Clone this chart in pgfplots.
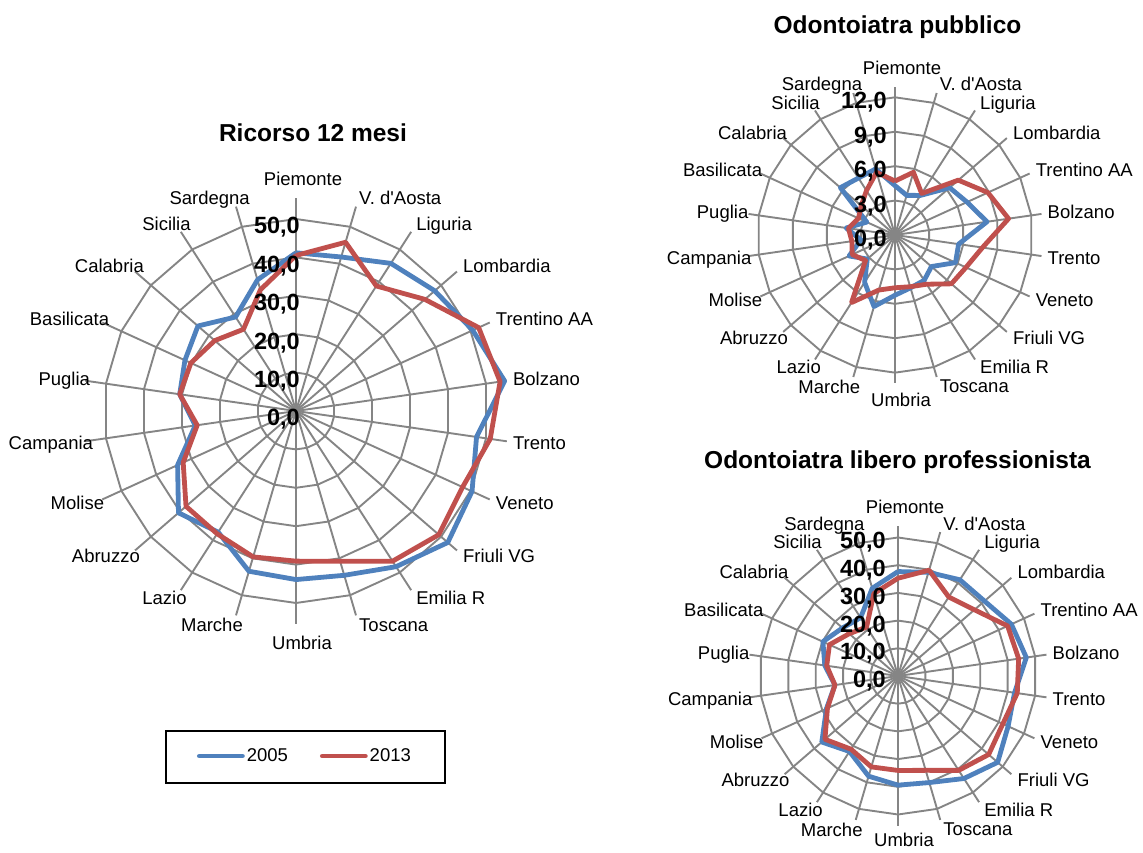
\documentclass[border=0pt]{standalone}
\usepackage{fontspec}
\setmainfont{Liberation Sans}[Ligatures=TeXOff]
\usepackage{pgfplots}
\pgfplotsset{compat=1.18}
\usepgfplotslibrary{polar}
\usepackage{pgfplotstable}
\definecolor{b05}{HTML}{4F81BD}
\definecolor{r13}{HTML}{C0504D}
\definecolor{gridc}{HTML}{858585}
\newcommand{\lbl}{\fontsize{18.5}{22}\selectfont}
\newcommand{\tck}{\bfseries\fontsize{23.5}{27}\selectfont}
\newcommand{\ttl}{\bfseries\fontsize{24.5}{29}\selectfont}

% data: angle (deg, Piemonte at top, clockwise), 2005, 2013
\pgfplotstableread{
ang b r
90      41.2 40.5
73.636  41.8 45.8
57.273  45.7 38.7
40.909  47.8 44.4
24.545  50.6 52.3
8.182   54.9 53.7
351.818 47.5 51.1
335.455 50.4 47.7
319.091 52.3 49.2
302.727 48.2 46.5
286.364 44.6 40.8
270     43.9 39.1
253.636 43.5 39.6
237.273 37.5 38.0
220.909 40.5 37.9
204.545 33.9 32.3
188.182 26.5 26.0
171.818 30.6 30.6
155.455 31.8 30.1
139.091 33.8 28.0
122.727 29.1 25.3
106.364 35.6 32.9
90      41.2 40.5
}\tabL

\pgfplotstableread{
ang b r
90      4.3  4.7
73.636  3.6  5.7
57.273  4.1  4.3
40.909  6.3  7.3
24.545  6.9  8.9
8.182   8.1  10.0
351.818 5.6  7.7
335.455 5.8  6.8
319.091 4.2  6.5
302.727 4.7  5.1
286.364 4.8  4.7
270     5.25 4.6
253.636 6.5  5.0
237.273 4.9  7.0
220.909 3.2  3.4
204.545 4.4  4.1
188.182 3.0  3.8
171.818 4.3  4.1
155.455 2.7  3.5
139.091 6.3  3.9
122.727 5.9  4.6
106.364 6.0  5.7
90      4.3  4.7
}\tabP

\pgfplotstableread{
ang b r
90      37.7 35.3
73.636  39.0 39.8
57.273  41.3 33.9
40.909  41.3 36.5
24.545  45.0 43.5
8.182   46.8 44.0
351.818 42.5 43.5
335.455 43.7 41.6
319.091 47.6 43.3
302.727 44.0 40.5
286.364 40.1 35.5
270     39.4 34.1
253.636 37.7 34.2
237.273 32.4 31.4
220.909 36.4 34.9
204.545 28.4 28.0
188.182 23.0 23.0
171.818 26.7 26.0
155.455 29.8 27.2
139.091 26.5 23.3
122.727 25.0 21.0
106.364 33.0 31.0
90      37.7 35.3
}\tabF

\newcommand{\radargrid}[3]{%
  \pgfplotsextra{%
    \foreach \k in {0,...,21}{%
      \pgfmathsetmacro{\ang}{90-\k*360/22}%
      \draw[gridc, line width=1.9pt] (axis cs:0,0) -- (axis cs:\ang,#3);
    }%
    \foreach \j in {1,...,#2}{%
      \pgfmathsetmacro{\rr}{\j*#1}%
      \draw[gridc, line width=1.9pt, line join=miter] (axis cs:90,\rr)
        \foreach \k [evaluate=\k as \aa using 90-\k*360/22] in {1,...,21}{ -- (axis cs:\aa,\rr) } -- cycle;
    }%
  }%
}

% #1 spoke end radius, #2 extra x shift of upper-left labels, #3 extra y shift of the bottom label
\newcommand{\radarlabels}[3]{%
  \pgfplotsextra{%
    \foreach \k/\nm/\anc/\dx/\dy in {%
      0/Piemonte/base/7/-12,
      1/V. d'Aosta/base west/3/-2,
      2/Liguria/base west/5/-1,
      3/Lombardia/base west/6/1,
      4/Trentino AA/base west/6/3,
      5/Bolzano/base west/6/5,
      6/Trento/base west/6/8,
      7/Veneto/base west/6/10,
      8/Friuli VG/base west/6/12.5,
      9/Emilia R/base west/5/14,
      10/Toscana/base west/3/16,
      11/Umbria/base/6/25,
      12/Marche/base east/7/16.5,
      13/Lazio/base east/6/14,
      14/Abruzzo/base east/5/12.5,
      15/Molise/base east/2/10,
      16/Campania/base east/1/8,
      17/Puglia/base east/-2/5,
      18/Basilicata/base east/0/3,
      19/Calabria/base east/2/1,
      20/Sicilia/base east/3/-1,
      21/Sardegna/base east/7/-2}{%
      \pgfmathsetmacro{\ang}{90-\k*360/22}%
      \pgfmathsetmacro{\ex}{\k>15 ? #2 : 0}%
      \pgfmathsetmacro{\ey}{\k==11 ? #3 : 0}%
      \node[anchor=\anc, inner sep=0pt, font=\lbl, xshift={(\dx+\ex)*1pt}, yshift={-(\dy+\ey)*1pt}] at (axis cs:\ang,#1) {\nm};
    }%
  }%
}

\begin{document}
\begin{tikzpicture}

% ---------- left: Ricorso 12 mesi ----------
\begin{polaraxis}[
  at={(296pt,442pt)}, anchor=center,
  scale only axis, width=426pt, height=426pt,
  xmin=0, xmax=360, ymin=0, ymax=55.47,
  hide axis, clip=false,
  legend columns=2,
  legend style={at={(axis description cs:0.521,-0.310)}, anchor=center,
    draw=none, fill=none, font=\lbl,
    /tikz/every even column/.append style={column sep=30pt}},
  legend image code/.code={\draw[#1, line cap=round] (0pt,0pt) -- (43pt,0pt);},
]
\radargrid{10}{5}{55.47}
\addplot[b05, line width=4.8pt, line join=round, no marks] table[x=ang, y=b] {\tabL};
\addplot[r13, line width=4.8pt, line join=round, no marks] table[x=ang, y=r] {\tabL};
\legend{2005,2013}
\radarlabels{55.47}{7}{1}
\pgfplotsextra{%
  \node[anchor=base east, inner sep=0pt, font=\tck, xshift=4pt, yshift=-15pt] at (axis cs:90,0) {0,0};
  \node[anchor=base east, inner sep=0pt, font=\tck, xshift=4pt, yshift=-15pt] at (axis cs:90,10) {10,0};
  \node[anchor=base east, inner sep=0pt, font=\tck, xshift=4pt, yshift=-15pt] at (axis cs:90,20) {20,0};
  \node[anchor=base east, inner sep=0pt, font=\tck, xshift=4pt, yshift=-15pt] at (axis cs:90,30) {30,0};
  \node[anchor=base east, inner sep=0pt, font=\tck, xshift=4pt, yshift=-15pt] at (axis cs:90,40) {40,0};
  \node[anchor=base east, inner sep=0pt, font=\tck, xshift=4pt, yshift=-15pt] at (axis cs:90,50) {50,0};
}
\end{polaraxis}

% ---------- top right: Odontoiatra pubblico ----------
\begin{polaraxis}[
  at={(895pt,618pt)}, anchor=center,
  scale only axis, width=296pt, height=296pt,
  xmin=0, xmax=360, ymin=0, ymax=12.9,
  hide axis, clip=false,
]
\radargrid{3}{4}{12.9}
\addplot[b05, line width=4.8pt, line join=round, no marks] table[x=ang, y=b] {\tabP};
\addplot[r13, line width=4.8pt, line join=round, no marks] table[x=ang, y=r] {\tabP};
\radarlabels{12.9}{2}{-1}
\pgfplotsextra{%
  \node[anchor=base east, inner sep=0pt, font=\tck, xshift=-8pt, yshift=-11.5pt] at (axis cs:90,0) {0,0};
  \node[anchor=base east, inner sep=0pt, font=\tck, xshift=-8pt, yshift=-11.5pt] at (axis cs:90,3) {3,0};
  \node[anchor=base east, inner sep=0pt, font=\tck, xshift=-8pt, yshift=-11.5pt] at (axis cs:90,6) {6,0};
  \node[anchor=base east, inner sep=0pt, font=\tck, xshift=-8pt, yshift=-11.5pt] at (axis cs:90,9) {9,0};
  \node[anchor=base east, inner sep=0pt, font=\tck, xshift=-8pt, yshift=-11.5pt] at (axis cs:90,12) {12,0};
}
\end{polaraxis}

% ---------- bottom right: Odontoiatra libero professionista ----------
\begin{polaraxis}[
  at={(898pt,177pt)}, anchor=center,
  scale only axis, width=300pt, height=300pt,
  xmin=0, xmax=360, ymin=0, ymax=54.15,
  hide axis, clip=false,
]
\radargrid{10}{5}{54.15}
\addplot[b05, line width=4.8pt, line join=round, no marks] table[x=ang, y=b] {\tabF};
\addplot[r13, line width=4.8pt, line join=round, no marks] table[x=ang, y=r] {\tabF};
\radarlabels{54.15}{2}{-4}
\pgfplotsextra{%
  \node[anchor=base east, inner sep=0pt, font=\tck, xshift=-12pt, yshift=-11.5pt] at (axis cs:90,0) {0,0};
  \node[anchor=base east, inner sep=0pt, font=\tck, xshift=-12pt, yshift=-11.5pt] at (axis cs:90,10) {10,0};
  \node[anchor=base east, inner sep=0pt, font=\tck, xshift=-12pt, yshift=-11.5pt] at (axis cs:90,20) {20,0};
  \node[anchor=base east, inner sep=0pt, font=\tck, xshift=-12pt, yshift=-11.5pt] at (axis cs:90,30) {30,0};
  \node[anchor=base east, inner sep=0pt, font=\tck, xshift=-12pt, yshift=-11.5pt] at (axis cs:90,40) {40,0};
  \node[anchor=base east, inner sep=0pt, font=\tck, xshift=-12pt, yshift=-11.5pt] at (axis cs:90,50) {50,0};
}
\end{polaraxis}

% titles
\node[anchor=base, font=\ttl, inner sep=0pt] at (313pt,711pt) {Ricorso 12 mesi};
\node[anchor=base, font=\ttl, inner sep=0pt] at (897.5pt,819pt) {Odontoiatra pubblico};
\node[anchor=base, font=\ttl, inner sep=0pt] at (897.5pt,384pt) {Odontoiatra libero professionista};

% legend frame
\draw[line width=1.5pt] (166pt,122pt) rectangle (445pt,70pt);

\pgfresetboundingbox
\path[use as bounding box] (0pt,0pt) rectangle (1143pt,853pt);
\end{tikzpicture}
\end{document}
